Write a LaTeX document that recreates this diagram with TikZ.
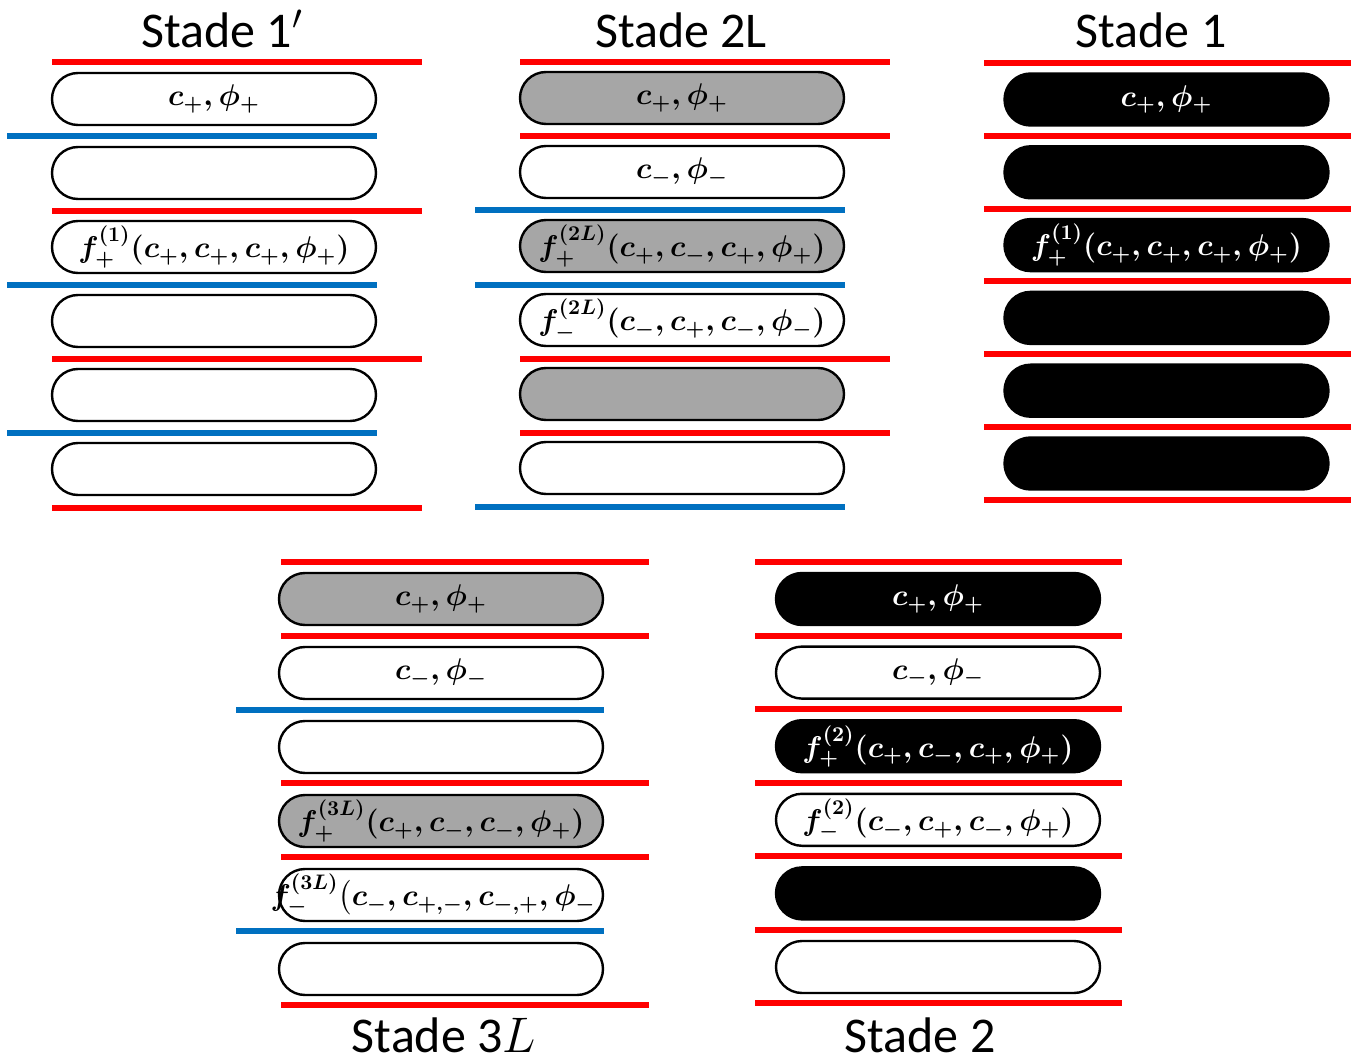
\RequirePackage{fix-cm}
\documentclass[tikz,border=0pt]{standalone}
\usepackage{amsmath}
\usepackage{fontspec}
\newfontfamily\stadefont{Carlito}
\usetikzlibrary{shapes.misc}
\definecolor{sred}{RGB}{255,0,0}
\definecolor{sblue}{RGB}{0,112,192}
\definecolor{shade}{RGB}{166,166,166}
\tikzset{
  capsule/.style={rounded rectangle,draw=black,line width=1.2pt,minimum width=162pt,minimum height=26pt,inner sep=0pt},
  hollow/.style={fill=white},
  grey/.style={fill=shade},
  dark/.style={fill=black},
  sepr/.style={draw=sred,line width=3pt},
  sepb/.style={draw=sblue,line width=3pt,xshift=-22.5pt},
  lbl/.style={font=\fontsize{15}{18}\selectfont\boldmath,inner sep=0pt},
  stadetitle/.style={font=\stadefont\fontsize{25}{28}\selectfont,inner sep=0pt,anchor=base,text depth=0pt}
}
\begin{document}
\begin{tikzpicture}[x=0.5pt,y=-0.5pt]
  \useasboundingbox (0,0) rectangle (1356,1059);
  % Stade 1'
  \node[stadetitle] (t1p) at (222,48) {Stade 1$'$};
  \foreach \s [count=\i from 0] in {sepr,sepb,sepr,sepb,sepr,sepb,sepr} \draw[\s] (52,62+\i*74.3) -- ++(370,0);
  \foreach \i in {0,...,5} \node[capsule,hollow] (a\i) at (214,99+\i*74) {};
  \node[lbl] at (a0) {$c_+,\phi_+$};
  \node[lbl] at (a2) {$f_+^{(1)}(c_+,c_+,c_+,\phi_+)$};
  % Stade 2L
  \node[stadetitle] (t2l) at (681,48) {Stade 2L};
  \foreach \s [count=\i from 0] in {sepr,sepr,sepb,sepb,sepr,sepr,sepb} \draw[\s] (520,62+\i*74.2) -- ++(370,0);
  \foreach \f [count=\i from 0] in {grey,hollow,grey,hollow,grey,hollow} \node[capsule,\f] (b\i) at (682,98+\i*74) {};
  \node[lbl] at (b0) {$c_+,\phi_+$};
  \node[lbl] at (b1) {$c_-,\phi_-$};
  \node[lbl] at (b2) {$f_+^{(2L)}(c_+,c_-,c_+,\phi_+)$};
  \node[lbl] at (b3) {$f_-^{(2L)}(c_-,c_+,c_-,\phi_-)$};
  % Stade 1
  \node[stadetitle] (t1) at (1151,48) {Stade 1};
  \foreach \i in {0,...,6} \draw[sepr] (984,63+\i*72.8) -- ++(367,0);
  \foreach \i in {0,...,5} \node[capsule,dark] (c\i) at (1166.5,99.5+\i*72.8) {};
  \node[lbl,white] at (c0) {$c_+,\phi_+$};
  \node[lbl,white] at (c2) {$f_+^{(1)}(c_+,c_+,c_+,\phi_+)$};
  % Stade 3L
  \node[stadetitle] (t3l) at (444,1052) {Stade 3$L$};
  \foreach \s [count=\i from 0] in {sepr,sepr,sepb,sepr,sepr,sepb,sepr} \draw[\s] (281,562+\i*73.8) -- ++(368,0);
  \foreach \f [count=\i from 0] in {grey,hollow,hollow,grey,hollow,hollow} \node[capsule,\f] (d\i) at (441,599+\i*74) {};
  \node[lbl] at (d0) {$c_+,\phi_+$};
  \node[lbl] at (d1) {$c_-,\phi_-$};
  \node[lbl] at (d3) {$f_+^{(3L)}(c_+,c_-,c_-,\phi_+)$};
  \node[lbl,xshift=-4pt] at (d4) {$f_-^{(3L)}\big(c_-,c_{+,-},c_{-,+},\phi_-$};
  % Stade 2
  \node[stadetitle] (t2) at (920,1052) {Stade 2};
  \foreach \i in {0,...,6} \draw[sepr] (755,562+\i*73.5) -- ++(367,0);
  \foreach \f [count=\i from 0] in {dark,hollow,dark,hollow,dark,hollow} \node[capsule,\f] (e\i) at (938,599+\i*73.6) {};
  \node[lbl,white] at (e0) {$c_+,\phi_+$};
  \node[lbl] at (e1) {$c_-,\phi_-$};
  \node[lbl,white] at (e2) {$f_+^{(2)}(c_+,c_-,c_+,\phi_+)$};
  \node[lbl] at (e3) {$f_-^{(2)}(c_-,c_+,c_-,\phi_+)$};
\end{tikzpicture}
\end{document}
